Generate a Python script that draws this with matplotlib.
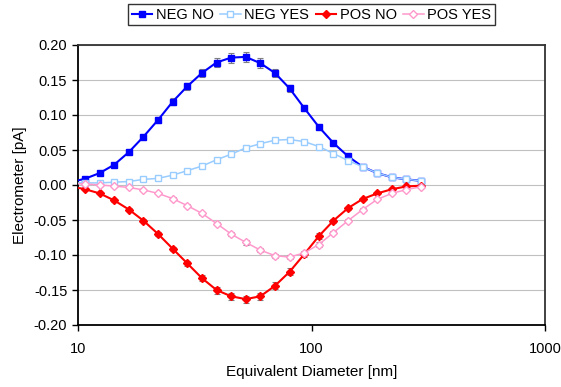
import matplotlib
matplotlib.use('Agg')
import matplotlib.pyplot as plt
from matplotlib.ticker import FixedLocator, FixedFormatter, FormatStrFormatter, NullLocator

plt.rcParams['font.family'] = ['Liberation Sans', 'DejaVu Sans']
plt.rcParams['axes.unicode_minus'] = False

# equivalent diameter channels [nm]
diam = [9.31, 10.75, 12.41, 14.33, 16.55, 19.11, 22.07, 25.48, 29.43, 33.98,
        39.24, 45.31, 52.33, 60.43, 69.78, 80.58, 93.06, 107.5, 124.1, 143.3,
        165.5, 191.1, 220.7, 254.8, 294.3]

neg_no = [0.004, 0.009, 0.017, 0.029, 0.047, 0.069, 0.093, 0.119, 0.141, 0.160,
          0.175, 0.182, 0.183, 0.174, 0.160, 0.138, 0.110, 0.083, 0.060, 0.041,
          0.026, 0.017, 0.011, 0.008, 0.006]
neg_no_err = [0.001, 0.001, 0.002, 0.002, 0.003, 0.003, 0.004, 0.005, 0.005, 0.006,
              0.007, 0.007, 0.007, 0.007, 0.006, 0.005, 0.004, 0.003, 0.002, 0.002,
              0.001, 0.001, 0.001, 0.001, 0.001]

neg_yes = [0.003, 0.003, 0.003, 0.004, 0.005, 0.008, 0.0095, 0.014, 0.0205, 0.027,
           0.036, 0.044, 0.053, 0.059, 0.064, 0.065, 0.062, 0.055, 0.045, 0.035,
           0.026, 0.017, 0.011, 0.008, 0.006]
neg_yes_err = [0.001, 0.001, 0.001, 0.001, 0.001, 0.001, 0.001, 0.002, 0.002, 0.002,
               0.002, 0.003, 0.003, 0.003, 0.003, 0.003, 0.003, 0.002, 0.002, 0.002,
               0.001, 0.001, 0.001, 0.001, 0.001]

pos_no = [-0.002, -0.006, -0.012, -0.022, -0.035, -0.051, -0.070, -0.091, -0.112, -0.133,
          -0.150, -0.159, -0.163, -0.159, -0.144, -0.124, -0.099, -0.073, -0.051, -0.033,
          -0.020, -0.012, -0.006, -0.002, -0.001]
pos_no_err = [0.001, 0.001, 0.001, 0.002, 0.002, 0.002, 0.003, 0.003, 0.004, 0.004,
              0.005, 0.005, 0.005, 0.005, 0.005, 0.005, 0.004, 0.004, 0.003, 0.002,
              0.002, 0.001, 0.001, 0.001, 0.001]

pos_yes = [0.002, 0.0015, 0.0, -0.0015, -0.0035, -0.007, -0.012, -0.0195, -0.0295, -0.0405,
           -0.055, -0.070, -0.082, -0.093, -0.101, -0.103, -0.097, -0.085, -0.068, -0.051,
           -0.035, -0.0205, -0.012, -0.0065, -0.0025]
pos_yes_err = [0.001, 0.001, 0.001, 0.001, 0.001, 0.001, 0.001, 0.002, 0.002, 0.002,
               0.002, 0.003, 0.003, 0.003, 0.003, 0.003, 0.003, 0.003, 0.002, 0.002,
               0.002, 0.001, 0.001, 0.001, 0.001]

fig = plt.figure(figsize=(5.61, 3.87), dpi=100)
ax = fig.add_axes([77.7 / 561, 1 - 325 / 387, (545.3 - 77.7) / 561, 280 / 387])

series = [
    ('NEG NO', neg_no, neg_no_err, dict(color='#0000FF', marker='s', ms=5, mfc='#0000FF', lw=1.5)),
    ('NEG YES', neg_yes, neg_yes_err, dict(color='#99CCFF', marker='s', ms=5, mfc='white', mew=1, lw=1.1)),
    ('POS NO', pos_no, pos_no_err, dict(color='#FF0000', marker='D', ms=4.2, mfc='#FF0000', lw=1.5)),
    ('POS YES', pos_yes, pos_yes_err, dict(color='#FF99CC', marker='D', ms=4.2, mfc='white', mew=1, lw=1.1)),
]

for name, vals, err, st in series:
    ax.errorbar(diam, vals, yerr=err, fmt='none', ecolor='#808080', elinewidth=0.8,
                capsize=2.5, capthick=0.8, zorder=2)
    ax.plot(diam, vals, label=name, zorder=3, **st)

ax.set_xscale('log')
ax.set_xlim(10, 1000)
ax.set_ylim(-0.20, 0.20)
ax.xaxis.set_major_locator(FixedLocator([10, 100, 1000]))
ax.xaxis.set_major_formatter(FixedFormatter(['10', '100', '1000']))
ax.xaxis.set_minor_locator(NullLocator())
ax.set_yticks([-0.20, -0.15, -0.10, -0.05, 0.0, 0.05, 0.10, 0.15, 0.20])
ax.yaxis.set_major_formatter(FormatStrFormatter('%.2f'))
ax.tick_params(direction='out', length=4, width=1, labelsize=10.5, colors='black')
ax.tick_params(axis='x', pad=8)
ax.yaxis.grid(True, color='#C0C0C0', lw=0.8)
ax.set_axisbelow(True)
for s in ['left', 'bottom']:
    ax.spines[s].set_linewidth(1.3)
    ax.spines[s].set_color('black')
for s in ['top', 'right']:
    ax.spines[s].set_linewidth(1.3)
    ax.spines[s].set_color('#333333')

ax.set_xlabel('Equivalent Diameter [nm]', fontsize=11, labelpad=7)
ax.set_ylabel('Electrometer [pA]', fontsize=11, labelpad=5)

leg = ax.legend(loc='upper center', bbox_to_anchor=(0.5, 1 + 41 / 280), ncol=4,
                fontsize=10.5, frameon=True, fancybox=False, edgecolor='black',
                handlelength=1.4, handletextpad=0.25, columnspacing=0.45,
                borderpad=0.25, borderaxespad=0)
leg.get_frame().set_linewidth(1.0)

fig.savefig('out.png', dpi=100)
